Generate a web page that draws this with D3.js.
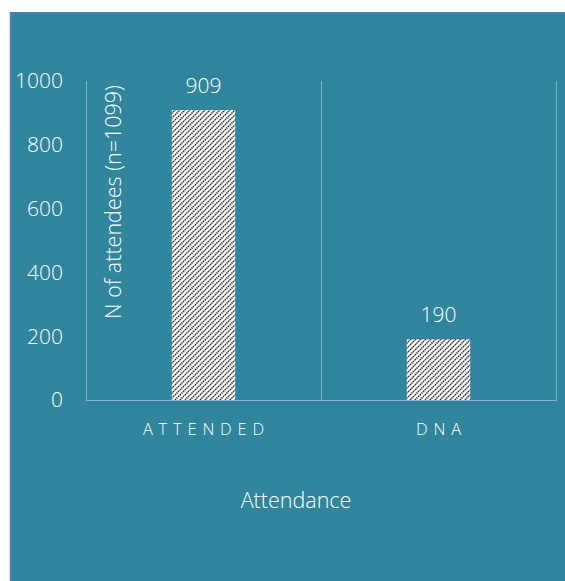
<!DOCTYPE html>
<html>
<head>
<meta charset="utf-8">
<script src="https://cdn.jsdelivr.net/npm/d3@7"></script>
<style>
  html, body { margin: 0; padding: 0; background: #ffffff; }
  svg { display: block; font-family: "Open Sans", Lato, sans-serif; }
</style>
</head>
<body>
<div id="chart"></div>
<script>
// Attendance counts
const categories = ["ATTENDED", "DNA"];
const counts = [909, 190];
const yTicks = [0, 200, 400, 600, 800, 1000];
const yTitle = "N of attendees (n=1099)";
const xTitle = "Attendance";

const W = 565, H = 581;
const FONT = "'Open Sans', Lato, sans-serif";
const svg = d3.select("#chart").append("svg").attr("width", W).attr("height", H);

// hatched fill used by the bars
const defs = svg.append("defs");
const pat = defs.append("pattern")
  .attr("id", "hatch")
  .attr("patternUnits", "userSpaceOnUse")
  .attr("width", 5).attr("height", 5);
pat.append("rect").attr("width", 5).attr("height", 5).attr("fill", "#ffffff");
pat.append("path")
  .attr("d", "M-1,1 L1,-1 M0,5 L5,0 M4,6 L6,4")
  .attr("stroke", "#2e2e2e").attr("stroke-width", 1.6)
  .attr("stroke-dasharray", "1.4,0.7");

// chart panel
svg.append("rect")
  .attr("x", 10).attr("y", 12).attr("width", W - 10).attr("height", H - 12)
  .attr("fill", "#31859c");
svg.append("line").attr("x1", 10.5).attr("x2", 10.5).attr("y1", 12).attr("y2", H)
  .attr("stroke", "#5b7fc0").attr("stroke-width", 1.5);
svg.append("line").attr("x1", 10).attr("x2", W).attr("y1", 12.5).attr("y2", 12.5)
  .attr("stroke", "#4a7fb5").attr("stroke-width", 1);

const plot = { left: 86, right: 556, top: 81, bottom: 400 };

const x = d3.scaleBand().domain(categories).range([plot.left, plot.right]).paddingInner(0).paddingOuter(0);
const y = d3.scaleLinear().domain([0, 1000]).range([plot.bottom, plot.top]);

const gridColor = "#7fb0c8";

// vertical separators between categories
const bounds = [plot.left, ...categories.map(c => x(c) + x.bandwidth())];
svg.append("g").selectAll("line").data(bounds).join("line")
  .attr("x1", d => d + 0.5).attr("x2", d => d + 0.5)
  .attr("y1", y(1000)).attr("y2", y(0))
  .attr("stroke", gridColor).attr("stroke-width", 1);

// y axis tick labels
const yAxis = d3.axisLeft(y).tickValues(yTicks).tickFormat(d3.format("d")).tickSize(0).tickPadding(0);
const gy = svg.append("g").attr("transform", `translate(63,0)`).call(yAxis);
gy.select(".domain").remove();
gy.selectAll("text")
  .attr("fill", "#ffffff").attr("font-size", 21).attr("font-family", FONT)
  .attr("font-weight", 300)
  .attr("dy", "0.33em");

// bars
const barW = x.bandwidth() * 0.27;
svg.append("g").selectAll("rect").data(counts).join("rect")
  .attr("x", (d, i) => x(categories[i]) + x.bandwidth() / 2 - barW / 2)
  .attr("y", d => y(d))
  .attr("width", barW)
  .attr("height", d => y(0) - y(d))
  .attr("fill", "url(#hatch)");

// baseline
svg.append("line")
  .attr("x1", plot.left).attr("x2", plot.right + 1)
  .attr("y1", y(0) + 0.5).attr("y2", y(0) + 0.5)
  .attr("stroke", "#8ab0d6").attr("stroke-width", 1.2);

// value labels
svg.append("g").selectAll("text").data(counts).join("text")
  .attr("x", (d, i) => x(categories[i]) + x.bandwidth() / 2)
  .attr("y", d => y(d) - 17)
  .attr("text-anchor", "middle")
  .attr("fill", "#ffffff").attr("font-size", 21).attr("font-weight", 300)
  .text(d => d);

// category labels
const xAxis = d3.axisBottom(x).tickSize(0).tickPadding(0);
const gx = svg.append("g").attr("transform", `translate(0,${plot.bottom + 35})`).call(xAxis);
gx.select(".domain").remove();
gx.selectAll("text")
  .attr("fill", "#ffffff").attr("font-size", 16.5).attr("font-family", FONT)
  .attr("font-weight", 300)
  .attr("letter-spacing", "5.8px").attr("dy", 0)
  .attr("dx", "2.9px");

// axis titles
svg.append("text")
  .attr("x", 296).attr("y", 508)
  .attr("text-anchor", "middle")
  .attr("fill", "#ffffff").attr("font-size", 21.5).attr("font-weight", 300)
  .text(xTitle);

svg.append("text")
  .attr("transform", `translate(121,${202}) rotate(-90)`)
  .attr("text-anchor", "middle")
  .attr("fill", "#ffffff").attr("font-size", 21.5).attr("font-weight", 300)
  .text(yTitle);
</script>
</body>
</html>
